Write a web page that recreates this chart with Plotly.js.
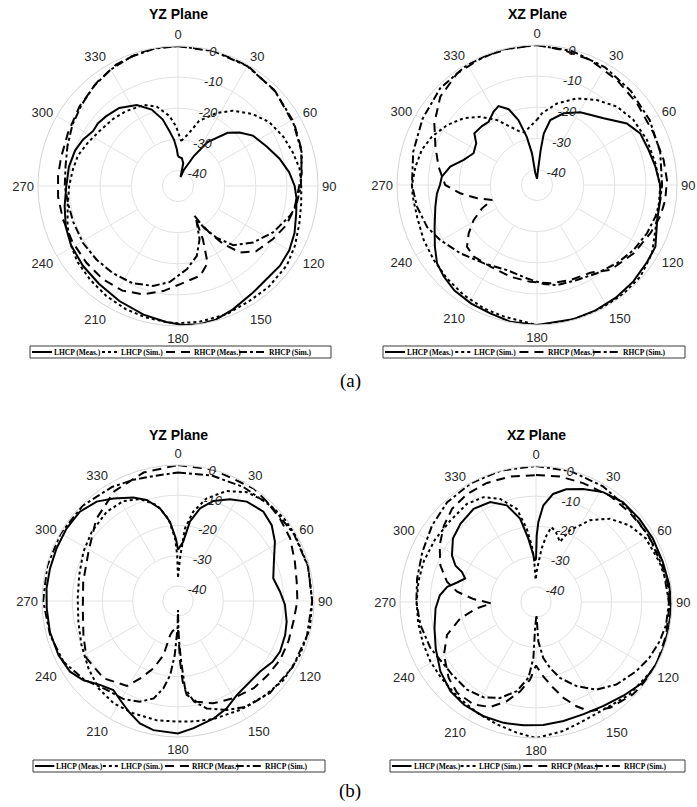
<!DOCTYPE html>
<html>
<head>
<meta charset="utf-8">
<script src="https://cdn.plot.ly/plotly-3.0.1.min.js"></script>
<style>html,body{margin:0;padding:0;background:#fff;}#chart{width:697px;height:807px;}</style>
</head>
<body>
<div id="chart"></div>
<script>
// ---------- tick labels / names ----------
const angleTicks = [0,30,60,90,120,150,180,210,240,270,300,330];
const angleTickText = ['0','30','60','90','120','150','180','210','240','270','300','330'];
const radialTicks = [-40,-30,-20,-10,0];
const radialTickText = ['-40','-30','-20','-10','0'];
const seriesNames = ['LHCP (Meas.)','LHCP (Sim.)','RHCP (Meas.)','RHCP (Sim.)'];
const panelTitles = ['YZ Plane','XZ Plane','YZ Plane','XZ Plane'];
const panelLabels = ['(a)','(b)'];

// ---------- (a) YZ plane ----------
const a_yz_lhcpMeas_theta = [0,8,13,16,20,28,34,43,49,56,66,75,83,90,96,103,112,120,128,137,145,156,164,171,178,185,195,207,219,230,241,250,260,270,280,289,296,303,308,314,323,333,341,347,351,355,358,360];
const a_yz_lhcpMeas_r     = [-35.5,-36,-37.5,-42,-39.5,-34,-28,-21.6,-18.8,-16,-13.8,-11.2,-9,-7.5,-6.7,-6,-4.6,-3.7,-3.4,-3.7,-3.1,-1.6,-0.4,0,-0.3,-1.1,-2.2,-3.5,-4.6,-5.1,-5.7,-6.6,-8,-9.1,-9.4,-10,-11,-12.5,-12.3,-12.8,-13.6,-15.8,-19,-23,-27,-30,-33,-35.5];
const a_yz_lhcpSim_theta = [4,11,18,28,36,46,55,65,74,82,90,98,107,117,126,138,148,159,171,180,185,194,203,213,223,233,241,250,260,270,279,287,296,305,316,325,337,345,353,358,364];
const a_yz_lhcpSim_r     = [-30.5,-28,-23,-18.4,-15.1,-11.7,-9.2,-7.6,-6.5,-5.5,-5.4,-5,-4.2,-2.8,-1.7,-1.4,-1.5,-0.9,-0.8,-0.9,-1.1,-1.5,-2,-2.8,-3.7,-4.5,-5.7,-7.2,-9,-10,-10.8,-11.4,-12.9,-14.2,-15,-15.7,-16.7,-18.6,-22.3,-25.7,-30.5];
const a_yz_rhcpMeas_theta = [0,15,30,46,63,73,84,93,101,110,119,130,137,142,146,149,151,155,159,166,179,188,198,208,219,230,242,254,265,275,284,296,309,322,333,344,352,360];
const a_yz_rhcpMeas_r     = [0,0,-0.3,-1.4,-2.8,-3.6,-5,-6.4,-6.9,-8,-10,-12.3,-15.8,-21.3,-27,-31.3,-34,-26,-18.5,-15.3,-13.4,-10.9,-8.4,-6.9,-6.5,-6.6,-6.6,-6.5,-6.3,-6.3,-6.3,-5.7,-4.3,-2.7,-1.2,-0.4,0,0];
const a_yz_rhcpSim_theta = [0,15,30,45,60,75,90,100,105,116,127,137,143,148,151,155,158,165,174,185,194,205,217,228,239,251,261,270,280,290,300,310,320,330,340,350,360];
const a_yz_rhcpSim_r     = [0,-0.2,-0.5,-1.3,-2.5,-3.8,-5.5,-6.5,-7.8,-11,-14.8,-19,-24,-29,-33,-30,-26.5,-21.7,-18.1,-14,-11.9,-10.5,-10,-9.7,-9.4,-9.4,-9.2,-8.6,-8.3,-7.2,-5.8,-4.5,-3,-1.8,-0.8,-0.2,0];

// ---------- (a) XZ plane ----------
const a_xz_lhcpMeas_theta = [0,4,6,7.5,11.6,20.4,30.8,45,55.6,63.4,72.6,81,90,97,106,117.5,125,135,145,155,165,180,191,200,209,218,225.5,232,239,248,258,265,270,275,282,289,296.6,304.5,309.5,317,322.6,329.4,334,339.5,344,348,351,352,360];
const a_xz_lhcpMeas_r     = [-43,-40,-33.7,-28.3,-23.7,-20.4,-17.8,-14.7,-10,-7.9,-7.4,-6.5,-5.4,-5.1,-4.8,-2.1,-1.8,-1.2,-0.8,-0.5,-0.3,0,-0.2,-1.1,-1.4,-1.9,-3,-4.2,-6.7,-9.5,-11.6,-12.7,-13.8,-14.3,-16.5,-20.1,-22.2,-21.3,-18.9,-19.1,-19.4,-17.6,-16.8,-19,-23.3,-29.2,-34.7,-41,-43];
const a_xz_lhcpSim_theta = [0,4,13.8,24.8,35.2,45.6,56,67.7,79.6,91,100,110.8,120.7,131.6,142,153,167.6,180,194,203,213.7,224,234,244,254.8,264.6,270,278.6,287,294.7,303.7,312.3,320.3,328.4,335.4,341,346.5,360];
const a_xz_lhcpSim_r     = [-24,-21.9,-18,-14.3,-11.6,-9,-7.6,-6.8,-6.3,-5.4,-5.3,-4.3,-2,-0.6,-0.3,-0.2,-0.1,0,-1.4,-1.8,-2.5,-3.3,-4,-4.5,-5.1,-4.9,-4.8,-5.5,-6.3,-7.8,-10.3,-13.1,-16.5,-20.5,-24.4,-26.6,-27.6,-24];
const a_xz_rhcpMeas_theta = [0,11,23,37.3,50.8,66,78.8,87.8,96.7,104,113,125,139,148.7,160.7,172.3,184,196,209.7,221.5,228.6,234.7,241,247,251.6,257.5,263.8,270,280.6,290.7,301,312.4,324.4,337.4,349,360];
const a_xz_rhcpMeas_r     = [0,-0.8,-1.3,-2.6,-3.5,-4,-3.5,-3.2,-3.5,-4.1,-5.4,-6.9,-8.9,-12,-12.6,-13.1,-13.8,-14.3,-14.8,-14.3,-15,-18.1,-21.7,-25.8,-29.8,-25.3,-20.2,-15.5,-12.8,-10.1,-6.5,-2.9,-0.9,-0.3,-0.2,0];
const a_xz_rhcpSim_theta = [0,15,30,45,60,75,90,97,105,113.7,124,134,145.8,157.2,168.7,176,186,199.4,214,228.3,240.4,249,259.8,270,285,300,315,330,345,360];
const a_xz_rhcpSim_r     = [0,-0.5,-1.3,-2.3,-3.2,-4,-4.8,-5.1,-5.6,-6.4,-7.6,-9,-10.7,-11.9,-12.2,-13.1,-14.8,-16,-14.6,-12,-9.2,-7.2,-5.8,-4.8,-3.8,-2.5,-1,-0.3,0,0];

// ---------- (b) YZ plane ----------
const b_yz_lhcpMeas_theta = [0,5,8.6,13.4,19.5,27,34.7,43.7,51,58.5,67.7,76.6,84.8,92,100.8,107.6,116.4,122.7,130.8,140.7,148,155.6,163,173,180,190.8,197.3,204,210.4,216,222.9,230,236.8,245.7,256.5,266.8,275.5,284.3,293.5,303,312.3,320.7,327.8,336.6,342.8,349,354.2,358,360];
const b_yz_lhcpMeas_r     = [-28,-25.3,-18.4,-13.5,-9.9,-7.2,-5,-4.1,-5.1,-7.4,-10.7,-12.6,-11.1,-9.6,-8.4,-7.8,-7.3,-7.8,-9.2,-9.1,-8.3,-6,-4.4,-2.6,-1.2,-1.5,-2.6,-4.9,-7.1,-8.6,-7.1,-4.2,-2.3,-1.6,-1.4,-1.5,-1.3,-1.3,-1.2,-1,-1.1,-2.5,-4.9,-7.7,-10,-13.8,-18.6,-24.3,-28];
const b_yz_lhcpSim_theta = [0,3,5.5,9.7,15.6,23.9,32.3,41.8,52,60,75,90,101.7,114,127,138,150,163,172,180,190,201.7,212,222,233,245.5,258,271.5,284.8,297.5,308.8,321.4,331.3,339.6,347.5,353.3,357.3,359,360];
const b_yz_lhcpSim_r     = [-37,-30,-20.8,-15,-9.7,-5.2,-2.4,-1,-0.5,-0.5,-0.4,-0.6,-0.4,-0.9,-1.4,-2.6,-3.5,-4.2,-4.8,-5.1,-4.9,-5,-5,-5.9,-7.9,-9.9,-11.3,-11.8,-11.2,-9.7,-8.4,-7.2,-7.3,-9,-12.5,-17.5,-24.2,-29.8,-37];
const b_yz_rhcpMeas_theta = [0,15,34,41.8,51,60.8,71.4,80.7,90,100,110,120,130,139,150.4,161,169.5,174.7,176.7,178,180,190,193,195,200,206,211,224,238,250,265.6,281.5,298.8,315,330,345,360];
const b_yz_rhcpMeas_r     = [0,0,-0.1,-0.9,-1.6,-2.5,-4.2,-5.2,-5.5,-6.2,-6.1,-6,-6.5,-6.8,-8,-9.2,-11.1,-13.8,-18.3,-24.9,-36,-35,-33.4,-26.5,-21.3,-16.5,-12.2,-9.5,-9.3,-11.7,-13.4,-13,-11.2,-6.7,-3,-1,0];
const b_yz_rhcpSim_theta = [0,15,30,45,60,75,90,105,120,135,147,156,165,171,175.4,177,179,180,181,183.5,186,189.5,194,200.7,209,218.7,230,242,255,270,285,300,315,330,340,350,360];
const b_yz_rhcpSim_r     = [-2.5,-2,-1.5,-1,-0.7,-0.5,-0.6,-0.8,-1.2,-2,-3.3,-5.5,-8.2,-11.3,-16,-25,-33,-42,-36,-27,-20.4,-15.7,-11.8,-9.4,-7.9,-7.3,-4.5,-2.1,-1.2,-0.4,-0.2,-0.2,-0.4,-1.4,-2.3,-2.9,-2.5];

// ---------- (b) XZ plane ----------
const b_xz_lhcpMeas_theta = [0,0.6,1.7,4.3,9,15,22.6,31.4,41,51.2,61.5,72.4,82.8,92.7,101,110,118,127,137,147,157,167,176.6,185.8,195,204.7,215,223.8,234,245,255.5,266.4,274,279.7,283.9,288.4,292,294.2,299,307.4,316,326.2,335.4,343.2,349.2,353.1,356.8,357.7,360];
const b_xz_lhcpMeas_r     = [-31,-23,-18.5,-13,-8.8,-6.4,-4.5,-2.4,-1.2,-1.1,-1,-1,-0.5,-0.3,-0.2,-0.2,-0.3,-0.7,-2.6,-4,-4.7,-4.6,-4.2,-4,-3.6,-3.4,-3.5,-4.1,-5.9,-8.4,-10.3,-11.7,-13.1,-15.2,-18.1,-20.3,-18.6,-15.8,-13.2,-10.4,-9,-7.9,-8.6,-11.6,-16.9,-23.9,-29.5,-31.2,-31];
const b_xz_lhcpSim_theta = [0,1,6,9,11.7,16,21.7,25.3,33.4,41.5,50.7,60,72,84,92.7,103.8,115.4,120,135,150,160,168,180,188.4,197.7,208,220,231.6,240.6,250,260,270,280,290,301.7,313.6,324.9,333.4,340.8,348.3,352.8,355.7,357.4,359,360];
const b_xz_lhcpSim_r     = [-37,-35,-27.2,-22.6,-19.7,-21,-23.6,-18.8,-12.6,-8.2,-5,-3,-2.1,-0.7,-0.3,0,0,-0.3,-1.5,-3,-2.5,-1.4,0,-1.3,-2.5,-3.5,-4.3,-4.8,-4.9,-5.2,-5.4,-5.5,-5.5,-5.5,-5.7,-5.9,-5.3,-6.2,-8.9,-13.5,-20.5,-26.2,-30.6,-37.3,-37];
const b_xz_rhcpMeas_theta = [0,10.8,21.6,34.7,46,57.6,69.2,81.3,92.7,104,116,125.8,133.7,145,153.8,158.8,164,169.5,174.4,180,184.4,190,196.4,203.5,211.3,221,229,240.2,249.7,257.9,263.9,268.3,272.7,277.4,282.8,291,300.5,309.7,318,327.5,337.6,348.3,360];
const b_xz_rhcpMeas_r     = [-3,-2.7,-2.7,-2.2,-2.1,-1.9,-1.3,-0.9,-0.9,-0.6,-0.2,-0.2,-0.7,-2.3,-4.7,-8,-12,-16.7,-20.3,-24,-19.2,-15,-10.8,-7.1,-5.3,-5.2,-6.7,-9.9,-13.6,-19.4,-25.3,-30.2,-24.3,-18.7,-14.8,-11.1,-8,-5.4,-3.5,-2.6,-2.4,-2.6,-3];
const b_xz_rhcpSim_theta = [0,15,30,45,60,75,90,100,107.7,116.3,124.7,135.8,145.4,154.3,162.5,168,172.6,176.6,178,182,182.7,185.7,192.2,200.5,208.8,218.2,229,246.4,258.8,270,281.2,293.8,306.4,318.3,331.3,345,360];
const b_xz_rhcpSim_r     = [0,-0.2,-0.8,-1.5,-1.8,-1.5,-1,-1.3,-2.1,-3.2,-4.7,-6.9,-9.8,-14.1,-18.7,-22.7,-26.3,-31.9,-40.7,-36.3,-26.4,-19.8,-14.8,-11.1,-9,-8.1,-8.3,-6.9,-6,-5.4,-4.9,-3.9,-2.3,-0.8,-0.2,0,0];

// ---------- build ----------
const panels = [
  [[a_yz_lhcpMeas_theta,a_yz_lhcpMeas_r],[a_yz_lhcpSim_theta,a_yz_lhcpSim_r],[a_yz_rhcpMeas_theta,a_yz_rhcpMeas_r],[a_yz_rhcpSim_theta,a_yz_rhcpSim_r]],
  [[a_xz_lhcpMeas_theta,a_xz_lhcpMeas_r],[a_xz_lhcpSim_theta,a_xz_lhcpSim_r],[a_xz_rhcpMeas_theta,a_xz_rhcpMeas_r],[a_xz_rhcpSim_theta,a_xz_rhcpSim_r]],
  [[b_yz_lhcpMeas_theta,b_yz_lhcpMeas_r],[b_yz_lhcpSim_theta,b_yz_lhcpSim_r],[b_yz_rhcpMeas_theta,b_yz_rhcpMeas_r],[b_yz_rhcpSim_theta,b_yz_rhcpSim_r]],
  [[b_xz_lhcpMeas_theta,b_xz_lhcpMeas_r],[b_xz_lhcpSim_theta,b_xz_lhcpSim_r],[b_xz_rhcpMeas_theta,b_xz_rhcpMeas_r],[b_xz_rhcpSim_theta,b_xz_rhcpSim_r]]
];
const dashes = ['solid','3px,3px','9px,6px','8px,3px,3px,3px'];
const gridColor = '#e2e2e2';

const W = 697, H = 807;
const px = v => v / W;
const py = v => (H - v) / H;

// centres and radii in pixels
const geo = [
  {cx:178, cy:186, R:140, title:14},
  {cx:537, cy:185, R:140, title:14},
  {cx:178, cy:601, R:136, title:435},
  {cx:536, cy:602, R:136, title:435}
];
// legend boxes [x0, x1, y0, y1] in pixels
const legBoxes = [
  [30, 331, 346, 358],
  [383, 685, 346, 358],
  [33, 325, 760, 772],
  [390, 685, 760, 772]
];
// legend item layout relative to a 301 px box: sample start, sample end, text start
const legItems = [[2, 22, 23], [72, 88, 90], [136, 162, 163], [209, 237, 238]];

// angular spokes: drawn from the -30 ring outwards (the reference leaves the centre clear)
const spokeTheta = [], spokeR = [];
angleTicks.forEach(a => {
  spokeTheta.push(a, a, null);
  spokeR.push(radialTicks[1], radialTicks[radialTicks.length - 1], null);
});

const data = [];
panels.forEach((p, i) => {
  const sub = i === 0 ? 'polar' : 'polar' + (i + 1);
  data.push({
    type: 'scatterpolar', mode: 'lines', theta: spokeTheta, r: spokeR, subplot: sub,
    showlegend: false, hoverinfo: 'skip', connectgaps: false,
    line: {color: gridColor, width: 1}
  });
  p.forEach((s, k) => {
    data.push({
      type: 'scatterpolar', mode: 'lines',
      theta: s[0], r: s[1], subplot: sub,
      name: seriesNames[k], showlegend: false,
      line: {color: '#000', width: 2, dash: dashes[k]},
      hoverinfo: 'skip'
    });
  });
});

const layout = {
  width: W, height: H,
  margin: {l:0, r:0, t:0, b:0},
  paper_bgcolor: '#fff',
  font: {family: 'Liberation Sans, Arial, sans-serif', color: '#262626'},
  annotations: [], shapes: [],
  showlegend: false
};

const serif = 'Liberation Serif, Times New Roman, serif';
const sans = 'Liberation Sans, Arial, sans-serif';

geo.forEach((g, i) => {
  const key = i === 0 ? 'polar' : 'polar' + (i + 1);
  layout[key] = {
    domain: {
      x: [(g.cx - g.R) / W, (g.cx + g.R) / W],
      y: [(H - g.cy - g.R) / H, (H - g.cy + g.R) / H]
    },
    bgcolor: '#fff',
    angularaxis: {
      rotation: 90, direction: 'clockwise',
      tickmode: 'array', tickvals: angleTicks, ticktext: angleTickText,
      showline: true, linecolor: '#d4d4d4', linewidth: 1,
      showgrid: false, ticks: 'outside', ticklen: 1, tickcolor: 'rgba(0,0,0,0)',
      tickfont: {size: 13, color: '#262626', family: sans}
    },
    radialaxis: {
      range: [-45, 0], tickmode: 'array', tickvals: radialTicks, ticktext: radialTickText,
      angle: 80, tickangle: 80, showline: false, ticks: '',
      gridcolor: gridColor,
      tickfont: {size: 13, color: '#262626', style: 'italic', family: sans}
    }
  };
  // panel title
  layout.annotations.push({
    text: '<b>' + panelTitles[i] + '</b>', showarrow: false,
    xref: 'paper', yref: 'paper',
    x: px(g.cx), y: py(g.title), xanchor: 'center', yanchor: 'middle',
    font: {size: 14, color: '#000', family: sans}
  });
  // legend box
  const b = legBoxes[i];
  const sc = (b[1] - b[0]) / 301;
  const ym = (b[2] + b[3]) / 2;
  layout.shapes.push({type: 'rect', xref: 'paper', yref: 'paper',
    x0: px(b[0]), x1: px(b[1]), y0: py(b[3]), y1: py(b[2]),
    line: {color: '#3a3a3a', width: 1}, fillcolor: '#fff', layer: 'above'});
  legItems.forEach((it, k) => {
    layout.shapes.push({type: 'line', xref: 'paper', yref: 'paper',
      x0: px(b[0] + it[0] * sc), x1: px(b[0] + it[1] * sc), y0: py(ym), y1: py(ym),
      line: {color: '#000', width: 2, dash: dashes[k]}, layer: 'above'});
    layout.annotations.push({text: '<b>' + seriesNames[k] + '</b>', showarrow: false,
      xref: 'paper', yref: 'paper', x: px(b[0] + it[2] * sc), y: py(ym + 0.5),
      xanchor: 'left', yanchor: 'middle', borderpad: 0,
      font: {size: 7.5, color: '#000', family: serif}});
  });
});

layout.annotations.push({text: panelLabels[0], showarrow: false, xref: 'paper', yref: 'paper',
  x: px(350), y: py(381), xanchor: 'center', yanchor: 'middle',
  font: {size: 19, color: '#000', family: serif}});
layout.annotations.push({text: panelLabels[1], showarrow: false, xref: 'paper', yref: 'paper',
  x: px(350), y: py(791), xanchor: 'center', yanchor: 'middle',
  font: {size: 19, color: '#000', family: serif}});

Plotly.newPlot('chart', data, layout, {staticPlot: true, displayModeBar: false});
</script>
</body>
</html>
